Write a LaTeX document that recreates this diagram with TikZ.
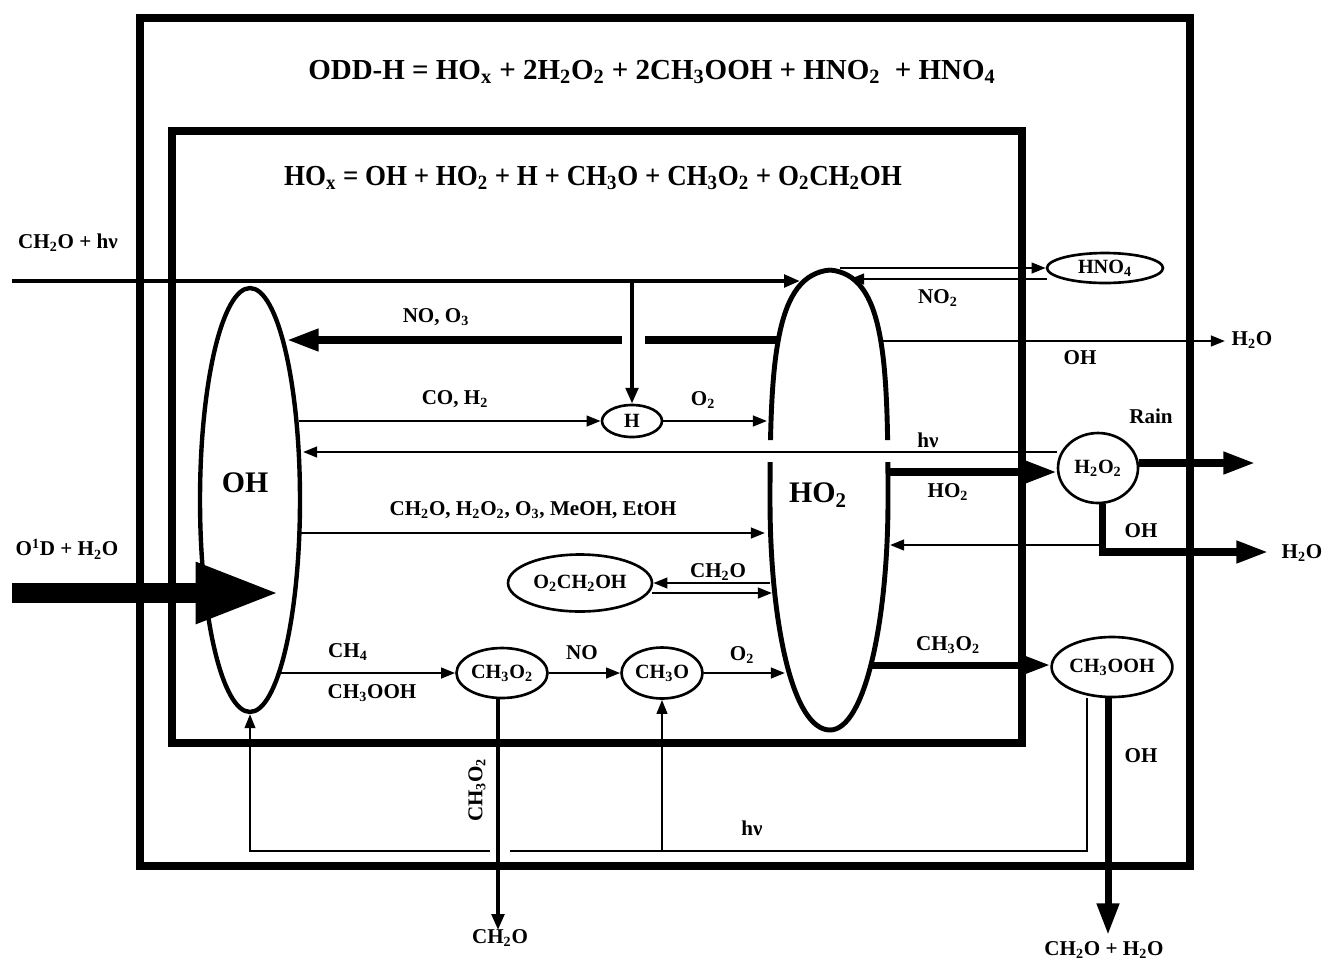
\documentclass[tikz,border=0pt]{standalone}
\usepackage{fontspec}
\setmainfont{Liberation Serif}
\usetikzlibrary{shapes.geometric, arrows.meta, positioning}
\newcommand{\sbs}[1]{\textsubscript{#1}}
\tikzset{
  lbl/.style={font=\bfseries\fontsize{12}{14}\selectfont, inner sep=0pt},
  ttl/.style={font=\bfseries\fontsize{16.5}{19}\selectfont, inner sep=0pt},
  big/.style={font=\bfseries\fontsize{17}{19}\selectfont, inner sep=0pt},
  spec/.style={ellipse, draw, line width=1.5pt, inner sep=0pt, font=\bfseries\fontsize{11.5}{13}\selectfont},
  frame/.style={line width=5pt},
  thinln/.style={line width=1.4pt},
  thinarr/.style={line width=1.4pt, -{Triangle[length=8pt,width=6pt]}},
  medarr/.style={line width=2.2pt, -{Triangle[length=9pt,width=7pt]}},
  thickln/.style={line width=4pt},
  thickarr/.style={line width=4pt, -{Triangle[length=18pt,width=12pt]}, line join=miter},
}

\begin{document}
\begin{tikzpicture}[x=0.02cm, y=-0.02cm]
\useasboundingbox (0,0) rectangle (1325,961);

\draw[frame] (140,18) rectangle (1190,866);
\draw[frame] (172,131) rectangle (1022,743);

\node[ttl] (oddh) at (652,72) {ODD-H = HO\sbs{x} + 2H\sbs{2}O\sbs{2} + 2CH\sbs{3}OOH + HNO\sbs{2}\ \ + HNO\sbs{4}};
\node[ttl, xscale=0.93] (hox) at (593,178) {HO\sbs{x} = OH + HO\sbs{2} + H + CH\sbs{3}O + CH\sbs{3}O\sbs{2} + O\sbs{2}CH\sbs{2}OH};

\node[draw, ellipse, line width=2.5pt, minimum width=2cm, minimum height=8.48cm] (OH) at (250,500) {};
\node[big] (ohlbl) at (245,483) {OH};

\begin{scope}
  \clip (700,250) rectangle (950,440) (700,462) rectangle (950,760);
  \draw[line width=2.8pt] (830,270) .. controls (885,275) and (888,360) .. (888,500)
    .. controls (888,620) and (865,730) .. (830,730)
    .. controls (792,730) and (770,620) .. (770,500)
    .. controls (770,360) and (775,275) .. (830,270);
\end{scope}
\node[big] (ho2lbl) at (818,495) {HO\sbs{2}};

\node[spec, minimum width=2.32cm, minimum height=0.6cm] (HNO4) at (1105,268) {HNO\sbs{4}};
\node[spec, minimum width=1.2cm, minimum height=0.64cm] (H) at (632,421) {H};
\node[spec, minimum width=1.6cm, minimum height=1.4cm] (H2O2) at (1098,468) {H\sbs{2}O\sbs{2}};
\node[spec, minimum width=2.88cm, minimum height=1.14cm] (O2CH2OH) at (580,583) {O\sbs{2}CH\sbs{2}OH};
\node[spec, minimum width=1.82cm, minimum height=1cm] (CH3O2) at (502,673) {CH\sbs{3}O\sbs{2}};
\node[spec, minimum width=1.62cm, minimum height=1.02cm] (CH3O) at (662,673) {CH\sbs{3}O};
\node[spec, minimum width=2.3cm, minimum height=1.2cm] (CH3OOH) at (1112,667) {CH\sbs{3}OOH};

\foreach \n/\x/\y in {src1/12/281, ho2a/800/281, jH/632/281,
    ho2b/778/340, gapR/645/340, gapL/622/340, ohb/287/340,
    ho2d/883/341, h2oA/1225/341, ho2e/840/268, ho2f/850/279, n4b/1047/279,
    ohc/299/421, ho2g/767/421, ohd/303/452, ho2h/888/472,
    ohe/300/533, ho2i/765/533, ho2j/770/583, ho2k/772/593, o2b/652/593,
    src2/12/593, ohf/280/593, ohg/280/673, ho2l/785/673, ho2m/870/665,
    ho2n/890/545, jOH/1102/545, cnr/1102/552, h2oB/1268/552, rainE/1255/463,
    ch2oA/498/930, ch2oB/1108/935,
    lpA/1087/697, lpB/1087/851, lpC/662/851, lpD/510/851, lpE/490/851, lpF/250/851}
  \coordinate (\n) at (\x,\y);

\draw[medarr] (src1) -- (ho2a);
\draw[medarr] (jH) -- (H);
\draw[thickln] (ho2b) -- (gapR);
\draw[thickarr] (gapL) -- (ohb);
\draw[thinarr] (ho2d) -- (h2oA);
\draw[thinarr] (ho2e) -- (HNO4.west);
\draw[thinarr] (n4b) -- (ho2f);
\draw[thinarr] (ohc) -- (H);
\draw[thinarr] (H) -- (ho2g);
\draw[thinarr] (H2O2.west |- ohd) -- (ohd);
\draw[thickarr] (ho2h) -- (H2O2.west |- ho2h);
\draw[thickarr] (H2O2.east |- rainE) -- (rainE);
\draw[thickarr] (H2O2.south -| cnr) -- (cnr) -- (h2oB);
\draw[thinarr] (jOH) -- (ho2n);
\draw[thinarr] (ohe) -- (ho2i);
\draw[thinarr] (ho2j) -- (O2CH2OH.east |- ho2j);
\draw[thinarr] (o2b) -- (ho2k);
\draw[line width=11pt, -{Triangle[length=48pt,width=32pt]}] (src2) -- (ohf);
\draw[thinarr] (ohg) -- (CH3O2);
\draw[thinarr] (CH3O2) -- (CH3O);
\draw[thinarr] (CH3O) -- (ho2l);
\draw[thickarr] (ho2m) -- (CH3OOH.west |- ho2m);
\draw[thickarr] (CH3OOH.south -| ch2oB) -- (ch2oB);
\draw[medarr] (CH3O2.south -| ch2oA) -- (ch2oA);
\draw[thinln] (CH3OOH.south -| lpA) -- (lpB) -- (lpD);
\draw[thinarr] (lpE) -- (lpF) -- (OH.south);
\draw[thinarr] (lpC) -- (CH3O);

\node[lbl] (t1) at (68,243) {CH\sbs{2}O + hν};
\node[lbl] (t2) at (67,549) {O\textsuperscript{1}D + H\sbs{2}O};
\node[lbl] (t3) at (436,317) {NO, O\sbs{3}};
\node[lbl] (t4) at (455,399) {CO, H\sbs{2}};
\node[lbl] (t5) at (703,400) {O\sbs{2}};
\node[lbl] (t6) at (928,440) {hν};
\node[lbl] (t7) at (938,298) {NO\sbs{2}};
\node[lbl] (t8) at (1080,358) {OH};
\node[lbl] (t9) at (1252,340) {H\sbs{2}O};
\node[lbl] (t10) at (1151,416) {Rain};
\node[lbl] (t11) at (948,492) {HO\sbs{2}};
\node[lbl] (t12) at (1141,531) {OH};
\node[lbl] (t13) at (1302,553) {H\sbs{2}O};
\node[lbl] (t14) at (533,510) {CH\sbs{2}O, H\sbs{2}O\sbs{2}, O\sbs{3}, MeOH, EtOH};
\node[lbl] (t15) at (718,572) {CH\sbs{2}O};
\node[lbl] (t16) at (348,652) {CH\sbs{4}};
\node[lbl] (t17) at (372,693) {CH\sbs{3}OOH};
\node[lbl] (t18) at (582,653) {NO};
\node[lbl] (t19) at (742,655) {O\sbs{2}};
\node[lbl] (t20) at (948,645) {CH\sbs{3}O\sbs{2}};
\node[lbl] (t21) at (1141,756) {OH};
\node[lbl] (t22) at (752,828) {hν};
\node[lbl, rotate=90] (t23) at (477,790) {CH\sbs{3}O\sbs{2}};
\node[lbl] (t24) at (500,938) {CH\sbs{2}O};
\node[lbl] (t25) at (1104,950) {CH\sbs{2}O + H\sbs{2}O};
\end{tikzpicture}
\end{document}
